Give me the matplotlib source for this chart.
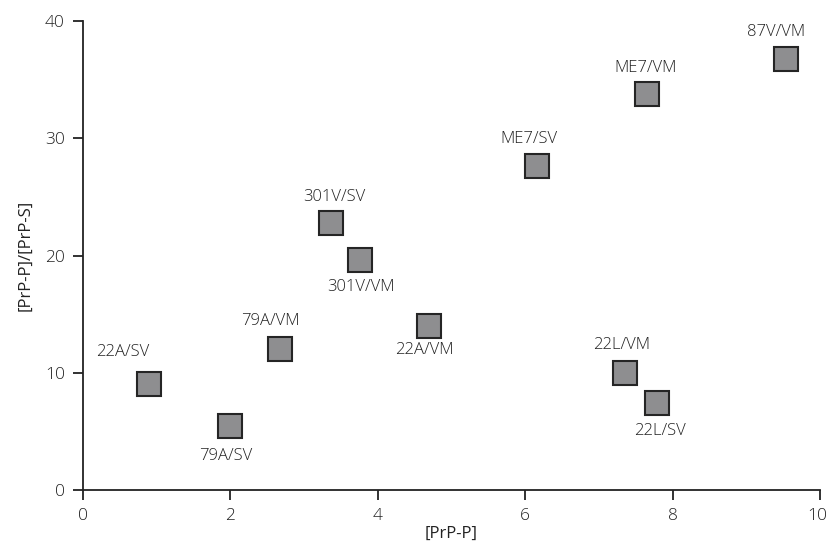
import matplotlib.pyplot as plt
import matplotlib.transforms as mtransforms

plt.rcParams['font.family'] = ['Open Sans', 'DejaVu Sans']
plt.rcParams['font.weight'] = 'light'

labels = ['22A/SV', '79A/SV', '79A/VM', '301V/SV', '301V/VM', '22A/VM',
          'ME7/SV', 'ME7/VM', '87V/VM', '22L/VM', '22L/SV']
prp_p = [0.9, 2.0, 2.68, 3.37, 3.76, 4.70, 6.16, 7.65, 9.54, 7.35, 7.79]
ratio = [9.0, 5.5, 12.0, 22.8, 19.6, 14.0, 27.6, 33.8, 36.8, 10.0, 7.4]

# label offsets in pixels from the marker centre
offsets = [(-27, 32), (-5, -30), (-10, 28), (3, 26), (1, -27), (-5, -24),
           (-8, 27), (-1, 26), (-10, 27), (-3, 28), (3, -28)]

fig = plt.figure(figsize=(8.29, 5.43), dpi=100)
ax = fig.add_axes([0.1001, 0.0976, 0.889, 0.8637])

ax.plot(prp_p, ratio, linestyle='none', marker='s', markersize=17.3,
        markerfacecolor='#8e8e90', markeredgecolor='#252525',
        markeredgewidth=1.5, clip_on=False)

for lab, x, y, (dx, dy) in zip(labels, prp_p, ratio, offsets):
    ax.annotate(lab, (x, y), xytext=(dx, dy), textcoords='offset pixels',
                ha='center', va='center', fontsize=12, color='#222222')

ax.set_xlim(0, 10)
ax.set_ylim(0, 40)
ax.set_xticks([0, 2, 4, 6, 8, 10])
ax.set_yticks([0, 10, 20, 30, 40])
for s in ['top', 'right']:
    ax.spines[s].set_visible(False)
for s in ['left', 'bottom']:
    ax.spines[s].set_linewidth(1.3)
    ax.spines[s].set_color('#222222')
ax.tick_params(direction='out', length=7, width=1.3, color='#222222',
               labelsize=12.5, labelcolor='#222222', pad=6)

# keep the last x tick label inside the figure
last = ax.get_xticklabels()[-1]
last.set_transform(last.get_transform() +
                   mtransforms.ScaledTranslation(-0.03, 0, fig.dpi_scale_trans))

ax.set_xlabel('[PrP-P]', fontsize=12, color='#222222', labelpad=1)
ax.set_ylabel('[PrP-P]/[PrP-S]', fontsize=12, color='#222222', labelpad=8)

fig.savefig('out.png', dpi=100)
